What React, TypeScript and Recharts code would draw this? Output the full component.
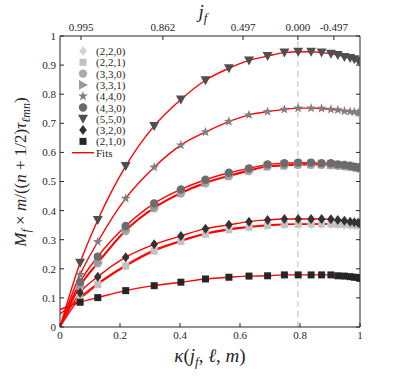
import React from "react";
import {
  ComposedChart,
  Scatter,
  Line,
  XAxis,
  YAxis,
  ReferenceLine,
} from "recharts";

// kappa(j_f, l, m) positions of the simulated remnants
const KAPPA = [0.067, 0.126, 0.219, 0.314, 0.403, 0.485, 0.563, 0.63, 0.692, 0.748, 0.794, 0.837, 0.872, 0.903, 0.926, 0.948, 0.967, 0.981, 0.994, 1.0];

const V220 = [0.1, 0.15, 0.213, 0.265, 0.297, 0.322, 0.337, 0.345, 0.351, 0.353, 0.353, 0.353, 0.353, 0.353, 0.352, 0.351, 0.35, 0.349, 0.348, 0.347];
const V221 = [0.097, 0.146, 0.209, 0.261, 0.294, 0.319, 0.334, 0.343, 0.349, 0.352, 0.353, 0.354, 0.354, 0.354, 0.353, 0.353, 0.352, 0.351, 0.35, 0.349];
const V330 = [0.14, 0.219, 0.33, 0.408, 0.459, 0.494, 0.518, 0.536, 0.551, 0.554, 0.557, 0.557, 0.557, 0.556, 0.554, 0.552, 0.55, 0.548, 0.546, 0.544];
const V331 = [0.143, 0.222, 0.333, 0.411, 0.462, 0.497, 0.521, 0.539, 0.553, 0.557, 0.56, 0.56, 0.56, 0.559, 0.557, 0.555, 0.553, 0.551, 0.549, 0.547];
const V440 = [0.18, 0.293, 0.442, 0.549, 0.625, 0.67, 0.706, 0.729, 0.74, 0.748, 0.752, 0.752, 0.751, 0.748, 0.746, 0.742, 0.74, 0.739, 0.737, 0.735];
const V430 = [0.155, 0.242, 0.347, 0.425, 0.473, 0.506, 0.53, 0.545, 0.559, 0.563, 0.565, 0.565, 0.563, 0.563, 0.559, 0.557, 0.554, 0.551, 0.549, 0.547];
const V550 = [0.221, 0.368, 0.553, 0.691, 0.782, 0.848, 0.889, 0.916, 0.931, 0.943, 0.946, 0.946, 0.943, 0.939, 0.935, 0.928, 0.924, 0.92, 0.916, 0.914];
const V320 = [0.118, 0.173, 0.24, 0.284, 0.313, 0.338, 0.351, 0.362, 0.368, 0.371, 0.371, 0.371, 0.371, 0.37, 0.368, 0.365, 0.362, 0.36, 0.358, 0.356];
const V210 = [0.085, 0.101, 0.125, 0.142, 0.154, 0.165, 0.171, 0.175, 0.176, 0.179, 0.179, 0.179, 0.179, 0.179, 0.176, 0.175, 0.173, 0.171, 0.17, 0.167];

// where each fit meets kappa = 0
const FIT_START = [0, 0.045, 0, 0, 0, 0, 0, 0, 0.06];

const MODE_LABELS = ["(2,2,0)", "(2,2,1)", "(3,3,0)", "(3,3,1)", "(4,4,0)", "(4,3,0)", "(5,5,0)", "(3,2,0)", "(2,1,0)"];
const MODE_VALUES = [V220, V221, V330, V331, V440, V430, V550, V320, V210];
const MODE_SHAPES = ["diamond", "square", "circle", "right", "star", "circle", "down", "diamond", "square"];
const MODE_COLORS = ["#d4d4d4", "#c2c2c2", "#a9a9a9", "#999999", "#808080", "#6c6c6c", "#4f4f4f", "#333333", "#262626"];

const TOP_TICKS = [0.07, 0.343, 0.61, 0.793, 0.913];
const TOP_LABELS = ["0.995", "0.862", "0.497", "0.000", "-0.497"];
const X_TICKS = [0, 0.2, 0.4, 0.6, 0.8, 1];
const Y_TICKS = [0, 0.1, 0.2, 0.3, 0.4, 0.5, 0.6, 0.7, 0.8, 0.9, 1];

const FONT = "Liberation Serif";
const AXIS = "#262626";
const RED = "#ff0000";

const Marker = ({ cx, cy, shape, fill }: { cx: number; cy: number; shape: string; fill: string }) => {
  if (cx == null || cy == null) return null;
  switch (shape) {
    case "diamond":
      return <polygon points={`${cx},${cy - 5} ${cx + 3.8},${cy} ${cx},${cy + 5} ${cx - 3.8},${cy}`} fill={fill} />;
    case "square":
      return <rect x={cx - 3.5} y={cy - 3.5} width={7} height={7} fill={fill} />;
    case "circle":
      return <circle cx={cx} cy={cy} r={4.2} fill={fill} />;
    case "right":
      return <polygon points={`${cx - 4},${cy - 4.8} ${cx + 5},${cy} ${cx - 4},${cy + 4.8}`} fill={fill} />;
    case "down":
      return <polygon points={`${cx - 5},${cy - 4} ${cx + 5},${cy - 4} ${cx},${cy + 5}`} fill={fill} />;
    case "star": {
      const pts: string[] = [];
      for (let i = 0; i < 10; i++) {
        const r = i % 2 === 0 ? 5.2 : 2.1;
        const a = -Math.PI / 2 + (i * Math.PI) / 5;
        pts.push(`${cx + r * Math.cos(a)},${cy + r * Math.sin(a)}`);
      }
      return <polygon points={pts.join(" ")} fill={fill} />;
    }
    default:
      return null;
  }
};

const tickStyle = { fontFamily: FONT, fontSize: 11, fill: AXIS };

export default function App() {
  const modes = MODE_LABELS.map((name, i) => ({
    name,
    shape: MODE_SHAPES[i],
    color: MODE_COLORS[i],
    points: KAPPA.map((k, j) => ({ k, v: MODE_VALUES[i][j] })),
    fit: [{ k: 0, v: FIT_START[i] }, ...KAPPA.map((k, j) => ({ k, v: MODE_VALUES[i][j] }))],
  }));

  // the top/right axes only frame the box, they need a series bound to them to be drawn
  const frame = TOP_TICKS.map((k) => ({ k, v: 0.5 }));

  return (
    <div style={{ position: "absolute", left: 0, top: 0, width: 407, height: 376, background: "#fff" }}>
      <ComposedChart width={407} height={376} margin={{ top: 0, right: 0, bottom: 0, left: 0 }}>
        <XAxis
          xAxisId="b"
          dataKey="k"
          type="number"
          domain={[0, 1]}
          ticks={X_TICKS}
          height={49}
          tickSize={-4}
          tickMargin={8}
          tick={tickStyle}
          stroke={AXIS}
          allowDataOverflow
        />
        <XAxis
          xAxisId="t"
          dataKey="k"
          orientation="top"
          type="number"
          domain={[0, 1]}
          ticks={TOP_TICKS}
          height={36}
          tickSize={-4}
          tickMargin={9}
          tick={tickStyle}
          tickFormatter={(v: number) => TOP_LABELS[TOP_TICKS.indexOf(v)]}
          stroke={AXIS}
          allowDataOverflow
        />
        <YAxis
          yAxisId="l"
          type="number"
          domain={[0, 1]}
          ticks={Y_TICKS}
          width={60}
          tickSize={-4}
          tickMargin={8}
          tick={tickStyle}
          stroke={AXIS}
          allowDataOverflow
        />
        <YAxis
          yAxisId="r"
          orientation="right"
          type="number"
          domain={[0, 1]}
          ticks={Y_TICKS}
          width={47}
          tickSize={-4}
          tickFormatter={() => ""}
          stroke={AXIS}
          allowDataOverflow
        />
        <ReferenceLine xAxisId="b" yAxisId="l" x={0.793} stroke="#bdbdbd" strokeDasharray="6 4" strokeWidth={1} />
        <Scatter
          xAxisId="t"
          yAxisId="r"
          data={frame}
          dataKey="v"
          isAnimationActive={false}
          shape={() => <g />}
        />
        {modes.map((m) => (
          <Scatter
            key={`s-${m.name}`}
            xAxisId="b"
            yAxisId="l"
            data={m.points}
            dataKey="v"
            isAnimationActive={false}
            shape={(p: any) => <Marker cx={p.cx} cy={p.cy} shape={m.shape} fill={m.color} />}
          />
        ))}
        {modes.map((m) => (
          <Line
            key={`f-${m.name}`}
            xAxisId="b"
            yAxisId="l"
            data={m.fit}
            dataKey="v"
            type="monotone"
            stroke={RED}
            strokeWidth={1.4}
            dot={false}
            activeDot={false}
            isAnimationActive={false}
          />
        ))}
      </ComposedChart>

      {/* axis titles */}
      <svg width={407} height={376} style={{ position: "absolute", left: 0, top: 0, pointerEvents: "none" }}>
        <text x={203} y={18} textAnchor="middle" fontFamily={FONT} fontSize={19} fontStyle="italic" fill={AXIS}>
          <tspan>j</tspan>
          <tspan dy={4} fontSize={13}>f</tspan>
        </text>
        <text x={210} y={362} textAnchor="middle" fontFamily={FONT} fontSize={19} fill={AXIS}>
          <tspan fontStyle="italic">κ</tspan>
          <tspan>(</tspan>
          <tspan fontStyle="italic">j</tspan>
          <tspan dy={4} fontSize={13} fontStyle="italic">f</tspan>
          <tspan dy={-4}>, </tspan>
          <tspan fontStyle="italic">ℓ</tspan>
          <tspan>, </tspan>
          <tspan fontStyle="italic">m</tspan>
          <tspan>)</tspan>
        </text>
        <text
          transform="translate(26,172) rotate(-90)"
          textAnchor="middle"
          fontFamily={FONT}
          fontSize={17}
          fill={AXIS}
        >
          <tspan fontStyle="italic">M</tspan>
          <tspan dy={4} fontSize={12} fontStyle="italic">f</tspan>
          <tspan dy={-4}> × </tspan>
          <tspan fontStyle="italic">m</tspan>
          <tspan>/((</tspan>
          <tspan fontStyle="italic">n</tspan>
          <tspan> + 1/2)</tspan>
          <tspan fontStyle="italic">τ</tspan>
          <tspan dy={4} fontSize={12} fontStyle="italic">ℓmn</tspan>
          <tspan dy={-4}>)</tspan>
        </text>

        {/* legend */}
        {modes.map((m, i) => (
          <g key={`lg-${m.name}`}>
            <Marker cx={83} cy={51 + i * 11.3} shape={m.shape} fill={m.color} />
            <text x={96} y={55 + i * 11.3} fontFamily={FONT} fontSize={11} fill={AXIS}>
              {m.name}
            </text>
          </g>
        ))}
        <line x1={72} x2={94} y1={152.7} y2={152.7} stroke={RED} strokeWidth={1.4} />
        <text x={96} y={156.5} fontFamily={FONT} fontSize={11} fill={AXIS}>
          Fits
        </text>
      </svg>
    </div>
  );
}
